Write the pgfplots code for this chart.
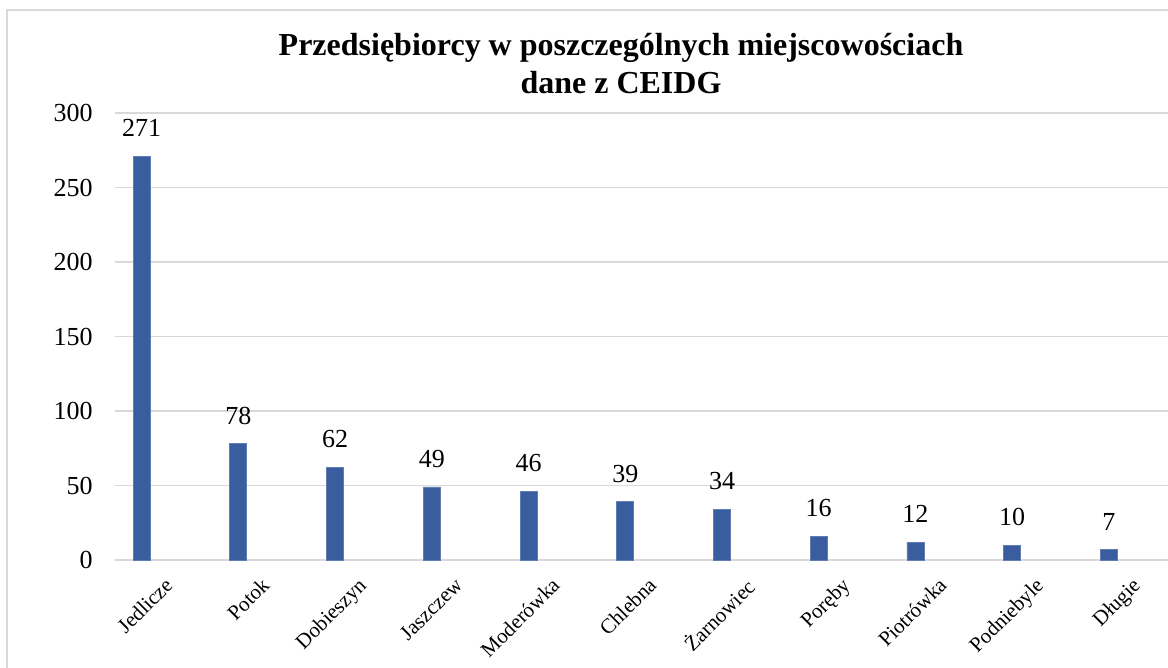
\documentclass[border=0pt]{standalone}
\usepackage{fontspec}
\setmainfont{Liberation Serif}
\usepackage{pgfplots}
\pgfplotsset{compat=1.18}
\definecolor{barblue}{HTML}{3A5DA0}
\definecolor{gridgray}{HTML}{D9D9D9}
\begin{document}
\begin{tikzpicture}
\useasboundingbox (0,0) rectangle (584pt,334pt);
\draw[gridgray, line width=1pt] (3.5pt,0) -- (3.5pt,329pt) -- (584pt,329pt);
\node[font=\fontsize{16}{19}\selectfont\bfseries, align=center] at (310.5pt,302pt)
  {Przedsiębiorcy w poszczególnych miejscowościach\\dane z CEIDG};
\begin{axis}[
  at={(57.5pt,54pt)}, anchor=south west,
  scale only axis, width=526.5pt, height=223.5pt,
  xmin=-0.274, xmax=10.61, ymin=0, ymax=300,
  ybar, bar width=8.5pt,
  axis line style={draw=none},
  major tick length=0pt,
  /pgf/number format/assume math mode=true,
  ymajorgrids, grid style={gridgray, line width=0.8pt},
  ytick={0,50,100,150,200,250,300},
  xtick=data,
  xticklabels={Jedlicze,Potok,Dobieszyn,Jaszczew,Moderówka,Chlebna,Żarnowiec,Poręby,Piotrówka,Podniebyle,Długie},
  yticklabel style={font=\fontsize{13}{15}\selectfont, anchor=east, inner sep=0pt, xshift=-11pt},
  xticklabel style={font=\fontsize{10.5}{12}\selectfont, xshift=11pt, yshift=-8pt, rotate=45, anchor=north east, inner sep=0pt},
  nodes near coords,
  every node near coord/.append style={font=\fontsize{13}{15}\selectfont, inner sep=0pt, yshift=9.5pt, anchor=south},
  clip=false,
]
\addplot[fill=barblue, draw=barblue!80!white] coordinates {
  (0,271) (1,78) (2,62) (3,49) (4,46) (5,39) (6,34) (7,16) (8,12) (9,10) (10,7)};
\end{axis}
\end{tikzpicture}
\end{document}
